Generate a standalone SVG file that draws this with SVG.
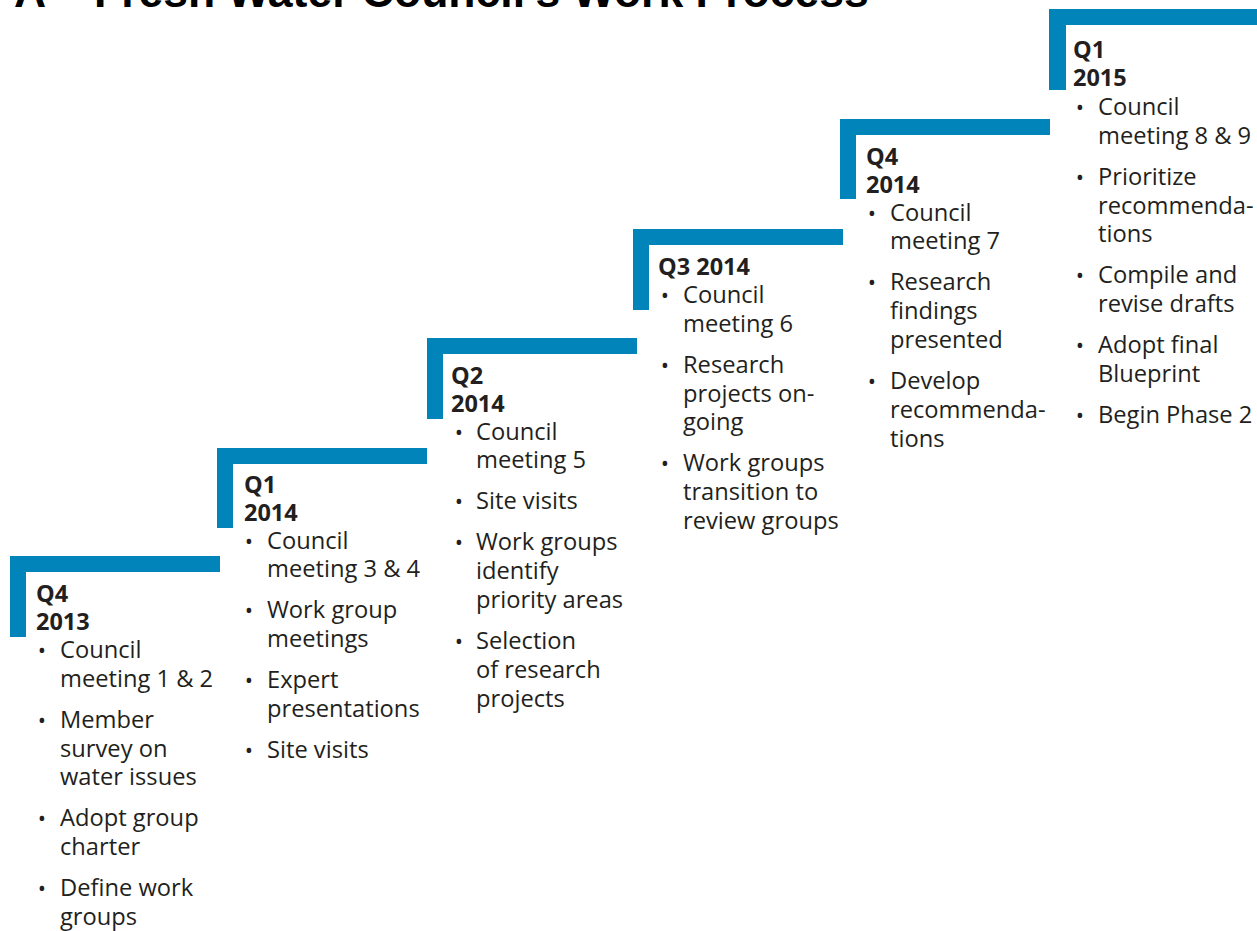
<svg xmlns="http://www.w3.org/2000/svg" width="1257" height="931" viewBox="0 0 1257 931">
<style>
.bar{fill:#0084ba}
.h{font-family:"Open Sans","Liberation Sans",sans-serif;font-weight:700;font-size:23.5px;fill:#231f20}
.t{font-family:"Open Sans","Liberation Sans",sans-serif;font-size:23.7px;fill:#231f20}
.b{font-family:"Open Sans","Liberation Sans",sans-serif;font-size:22px;fill:#231f20;text-anchor:middle}
.title{font-family:"Liberation Sans",Arial,sans-serif;font-weight:700;font-size:44.5px;fill:#000}
</style>
<rect width="1257" height="931" fill="#fff"/>
<text class="title" x="14" y="7">A – Fresh Water Council's Work Process</text>

<g id="step1">
<rect class="bar" x="10" y="556" width="210" height="16"/>
<rect class="bar" x="10" y="556" width="16" height="81"/>
<text class="h" x="36" y="601.5">Q4</text>
<text class="h" x="36" y="629.5">2013</text>
<text class="b" x="42" y="658">•</text>
<text class="t" x="60" y="658">Council<tspan x="60" y="686.8">meeting 1 &amp; 2</tspan></text>
<text class="b" x="42" y="727.8">•</text>
<text class="t" x="60" y="727.8">Member<tspan x="60" y="756.6">survey on</tspan><tspan x="60" y="785.4">water issues</tspan></text>
<text class="b" x="42" y="826.4">•</text>
<text class="t" x="60" y="826.4">Adopt group<tspan x="60" y="855.2">charter</tspan></text>
<text class="b" x="42" y="896.2">•</text>
<text class="t" x="60" y="896.2">Define work<tspan x="60" y="925">groups</tspan></text>
</g>

<g id="step2">
<rect class="bar" x="217" y="448" width="210" height="16"/>
<rect class="bar" x="217" y="448" width="16" height="80"/>
<text class="h" x="244" y="492.5">Q1</text>
<text class="h" x="244" y="520.5">2014</text>
<text class="b" x="249" y="548.5">•</text>
<text class="t" x="267" y="548.5">Council<tspan x="267" y="577.3">meeting 3 &amp; 4</tspan></text>
<text class="b" x="249" y="618.3">•</text>
<text class="t" x="267" y="618.3">Work group<tspan x="267" y="647.1">meetings</tspan></text>
<text class="b" x="249" y="688.1">•</text>
<text class="t" x="267" y="688.1">Expert<tspan x="267" y="716.9">presentations</tspan></text>
<text class="b" x="249" y="757.9">•</text>
<text class="t" x="267" y="757.9">Site visits</text>
</g>

<g id="step3">
<rect class="bar" x="427" y="338" width="210" height="16"/>
<rect class="bar" x="427" y="338" width="16" height="81"/>
<text class="h" x="451" y="384">Q2</text>
<text class="h" x="451" y="411.5">2014</text>
<text class="b" x="459" y="439.5">•</text>
<text class="t" x="476" y="439.5">Council<tspan x="476" y="468.3">meeting 5</tspan></text>
<text class="b" x="459" y="509.3">•</text>
<text class="t" x="476" y="509.3">Site visits</text>
<text class="b" x="459" y="550.3">•</text>
<text class="t" x="476" y="550.3">Work groups<tspan x="476" y="579.1">identify</tspan><tspan x="476" y="607.9">priority areas</tspan></text>
<text class="b" x="459" y="648.9">•</text>
<text class="t" x="476" y="648.9">Selection<tspan x="476" y="677.7">of research</tspan><tspan x="476" y="706.5">projects</tspan></text>
</g>

<g id="step4">
<rect class="bar" x="633" y="229" width="210" height="16"/>
<rect class="bar" x="633" y="229" width="16" height="81"/>
<text class="h" x="658" y="275">Q3 2014</text>
<text class="b" x="665" y="303">•</text>
<text class="t" x="683" y="303">Council<tspan x="683" y="331.8">meeting 6</tspan></text>
<text class="b" x="665" y="372.8">•</text>
<text class="t" x="683" y="372.8">Research<tspan x="683" y="401.6">projects on-</tspan><tspan x="683" y="430.4">going</tspan></text>
<text class="b" x="665" y="471.4">•</text>
<text class="t" x="683" y="471.4">Work groups<tspan x="683" y="500.2">transition to</tspan><tspan x="683" y="529">review groups</tspan></text>
</g>

<g id="step5">
<rect class="bar" x="840" y="119" width="210" height="16"/>
<rect class="bar" x="840" y="119" width="16" height="80"/>
<text class="h" x="866" y="165">Q4</text>
<text class="h" x="866" y="192.5">2014</text>
<text class="b" x="872" y="220.5">•</text>
<text class="t" x="890" y="220.5">Council<tspan x="890" y="249.3">meeting 7</tspan></text>
<text class="b" x="872" y="290.3">•</text>
<text class="t" x="890" y="290.3">Research<tspan x="890" y="319.1">findings</tspan><tspan x="890" y="347.9">presented</tspan></text>
<text class="b" x="872" y="388.9">•</text>
<text class="t" x="890" y="388.9">Develop<tspan x="890" y="417.7">recommenda-</tspan><tspan x="890" y="446.5">tions</tspan></text>
</g>

<g id="step6">
<rect class="bar" x="1049" y="9" width="208" height="16"/>
<rect class="bar" x="1049" y="9" width="17" height="81"/>
<text class="h" x="1073" y="58">Q1</text>
<text class="h" x="1073" y="86">2015</text>
<text class="b" x="1080" y="115">•</text>
<text class="t" x="1098" y="115">Council<tspan x="1098" y="143.8">meeting 8 &amp; 9</tspan></text>
<text class="b" x="1080" y="184.8">•</text>
<text class="t" x="1098" y="184.8">Prioritize<tspan x="1098" y="213.6">recommenda-</tspan><tspan x="1098" y="242.4">tions</tspan></text>
<text class="b" x="1080" y="283.4">•</text>
<text class="t" x="1098" y="283.4">Compile and<tspan x="1098" y="312.2">revise drafts</tspan></text>
<text class="b" x="1080" y="353.2">•</text>
<text class="t" x="1098" y="353.2">Adopt final<tspan x="1098" y="382">Blueprint</tspan></text>
<text class="b" x="1080" y="423">•</text>
<text class="t" x="1098" y="423">Begin Phase 2</text>
</g>
</svg>
